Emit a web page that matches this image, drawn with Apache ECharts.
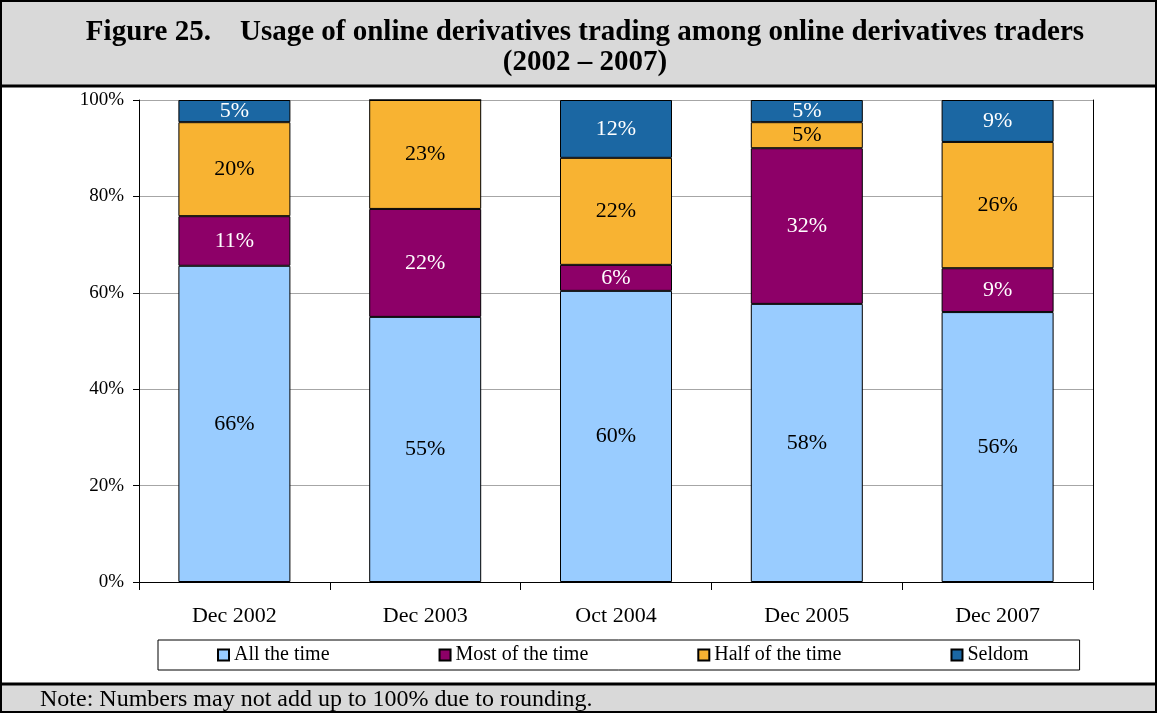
<!DOCTYPE html>
<html>
<head>
<meta charset="utf-8">
<title>Figure 25</title>
<script src="https://cdn.jsdelivr.net/npm/echarts@6/dist/echarts.min.js"></script>
<style>
  html, body { margin: 0; padding: 0; background: #fff; }
  #chart { width: 1157px; height: 713px; }
</style>
</head>
<body>
<div id="chart"></div>
<script>
// categories and shares (as drawn, 100% stacked)
const categories = ['Dec 2002', 'Dec 2003', 'Oct 2004', 'Dec 2005', 'Dec 2007']
const allTheTime = [65.6, 55.0, 60.4, 57.7, 56.0]
const mostOfTheTime = [10.3, 22.4, 5.4, 32.3, 9.1]
const halfOfTheTime = [19.5, 22.6, 22.2, 5.4, 26.2]
const seldom = [4.6, 0, 12.0, 4.6, 8.7]

// printed labels
const allLabels = [66, 55, 60, 58, 56]
const mostLabels = [11, 22, 6, 32, 9]
const halfLabels = [20, 23, 22, 5, 26]
const seldomLabels = [5, null, 12, 5, 9]

const yTicks = [0, 20, 40, 60, 80, 100]

const FONT = '"Liberation Serif", "Times New Roman", serif'

function makeSeries(name, data, labels, color, labelColor) {
  return {
    name: name,
    type: 'bar',
    stack: 'total',
    barWidth: 112,
    data: data,
    itemStyle: {
      color: color,
      borderColor: '#000',
      borderWidth: 1
    },
    label: {
      show: true,
      position: 'inside',
      color: labelColor,
      fontFamily: FONT,
      fontSize: 22,
      formatter(p) {
        const v = labels[p.dataIndex]
        return v == null ? '' : v + '%'
      }
    },
    emphasis: { disabled: true }
  }
}

const chart = echarts.init(document.getElementById('chart'))
chart.setOption({
  animation: false,
  backgroundColor: '#fff',
  textStyle: { fontFamily: FONT },
  title: {
    text: 'Note: Numbers may not add up to 100% due to rounding.',
    left: 40,
    top: 688,
    padding: 0,
    textStyle: {
      fontFamily: FONT,
      fontWeight: 'normal',
      fontSize: 24,
      color: '#000'
    }
  },
  graphic: [
    { type: 'rect', z: -10, shape: { x: 0, y: 0, width: 1157, height: 86 }, style: { fill: '#d9d9d9' } },
    { type: 'rect', z: -10, shape: { x: 0, y: 685, width: 1157, height: 28 }, style: { fill: '#d9d9d9' } },
    { type: 'line', z: 10, shape: { x1: 0, y1: 86, x2: 1157, y2: 86 }, style: { stroke: '#000', lineWidth: 3 } },
    { type: 'line', z: 10, shape: { x1: 0, y1: 684, x2: 1157, y2: 684 }, style: { stroke: '#000', lineWidth: 3 } },
    { type: 'rect', z: 10, shape: { x: 1, y: 1, width: 1155, height: 711 }, style: { fill: null, stroke: '#000', lineWidth: 2 } },
    {
      type: 'text',
      z: 10,
      x: 585,
      y: 18,
      style: {
        text: 'Figure 25.    Usage of online derivatives trading among online derivatives traders\n(2002 \u2013 2007)',
        align: 'center',
        verticalAlign: 'top',
        fontFamily: FONT,
        fontWeight: 'bold',
        fontSize: 29,
        lineHeight: 30,
        fill: '#000'
      }
    }
  ],
  legend: {
    left: 158,
    top: 640,
    orient: 'horizontal',
    padding: [5, 51, 5, 59],
    itemGap: 109,
    itemWidth: 11,
    itemHeight: 11,
    icon: 'rect',
    borderColor: '#000',
    borderWidth: 1,
    textStyle: { fontFamily: FONT, fontSize: 20, color: '#000' },
    data: ['All the time', 'Most of the time', 'Half of the time', 'Seldom']
  },
  grid: {
    left: 139,
    right: 64,
    top: 100,
    bottom: 131
  },
  xAxis: {
    type: 'category',
    data: categories,
    axisLine: { lineStyle: { color: '#000', width: 1 } },
    axisTick: { show: true, length: 8, lineStyle: { color: '#000' } },
    axisLabel: { fontFamily: FONT, fontSize: 22, color: '#000', margin: 23 },
    splitLine: { show: false }
  },
  yAxis: [{
    type: 'value',
    min: yTicks[0],
    max: yTicks[yTicks.length - 1],
    interval: 20,
    axisLine: { show: true, lineStyle: { color: '#000', width: 1 } },
    axisTick: { show: true, inside: false, length: 6, lineStyle: { color: '#000' } },
    axisLabel: { formatter: '{value}%', fontFamily: FONT, fontSize: 19, color: '#000', margin: 15 },
    splitLine: { show: true, lineStyle: { color: '#a6a6a6', width: 1 } }
  }, {
    type: 'value',
    position: 'right',
    min: 0,
    max: 100,
    interval: 20,
    axisLine: { show: true, lineStyle: { color: '#000', width: 1 } },
    axisTick: { show: false },
    axisLabel: { show: false },
    splitLine: { show: false }
  }],
  series: [
    makeSeries('All the time', allTheTime, allLabels, '#99ccff', '#000'),
    makeSeries('Most of the time', mostOfTheTime, mostLabels, '#8d0068', '#fff'),
    makeSeries('Half of the time', halfOfTheTime, halfLabels, '#f8b332', '#000'),
    makeSeries('Seldom', seldom, seldomLabels, '#1b67a3', '#fff')
  ]
})
</script>
</body>
</html>
